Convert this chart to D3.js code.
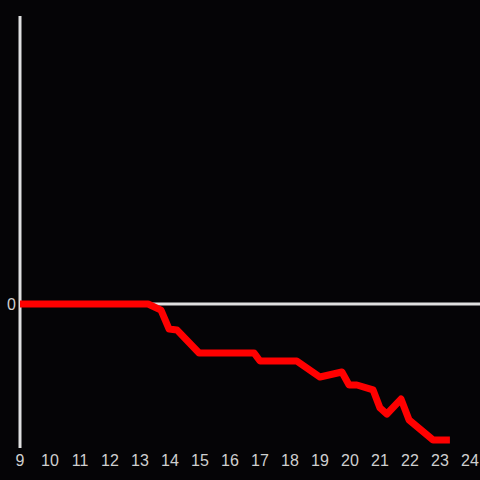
<!DOCTYPE html>
<html>
<head>
<meta charset="utf-8">
<script src="https://cdn.jsdelivr.net/npm/d3@7"></script>
<style>
  html, body { margin: 0; padding: 0; background: #050406; }
  svg { display: block; }
</style>
</head>
<body>
<svg id="chart" width="480" height="480"></svg>
<script>
// hours of day and values
const hours = [9, 13.27, 13.7, 13.97, 14.23, 14.97, 16.8, 17.0, 18.23, 19.0, 19.73, 19.97, 20.23, 20.77, 21.0, 21.23, 21.7, 21.97, 22.33, 22.77, 23.33];
const values = [0, 0, -0.042, -0.174, -0.18, -0.34, -0.34, -0.396, -0.396, -0.507, -0.472, -0.5625, -0.5625, -0.597, -0.722, -0.764, -0.66, -0.806, -0.868, -0.944, -0.944];
const xTicks = d3.range(9, 25);
const yTicks = [0];

const svg = d3.select("#chart");
const width = +svg.attr("width");
const height = +svg.attr("height");

svg.append("rect").attr("width", width).attr("height", height).attr("fill", "#050406");

const x = d3.scaleLinear().domain([9, 24]).range([20, 470]);
const y = d3.scaleLinear().domain([-1, 2]).range([448, 16]);

// y axis line
svg.append("line")
  .attr("x1", x(9)).attr("x2", x(9))
  .attr("y1", y(2)).attr("y2", y(-1))
  .attr("stroke", "#e0e0e0").attr("stroke-width", 3);

// zero line
svg.append("line")
  .attr("x1", x(9)).attr("x2", width)
  .attr("y1", y(0)).attr("y2", y(0))
  .attr("stroke", "#e0e0e0").attr("stroke-width", 3);

// x tick labels
svg.append("g")
  .selectAll("text")
  .data(xTicks)
  .enter()
  .append("text")
  .attr("x", d => x(d))
  .attr("y", 466)
  .attr("text-anchor", "middle")
  .attr("font-family", "Liberation Sans, Arial, sans-serif")
  .attr("font-size", 16)
  .attr("fill", "#cfcfcf")
  .text(d => d);

// y tick labels
svg.append("g")
  .selectAll("text")
  .data(yTicks)
  .enter()
  .append("text")
  .attr("x", 16)
  .attr("y", d => y(d) + 6)
  .attr("text-anchor", "end")
  .attr("font-family", "Liberation Sans, Arial, sans-serif")
  .attr("font-size", 16)
  .attr("fill", "#cfcfcf")
  .text(d => d);

// red series
const line = d3.line()
  .x((d, i) => x(hours[i]))
  .y(d => y(d));

svg.append("path")
  .datum(values)
  .attr("d", line)
  .attr("fill", "none")
  .attr("stroke", "#ff0000")
  .attr("stroke-width", 7)
  .attr("stroke-linejoin", "round");
</script>
</body>
</html>
